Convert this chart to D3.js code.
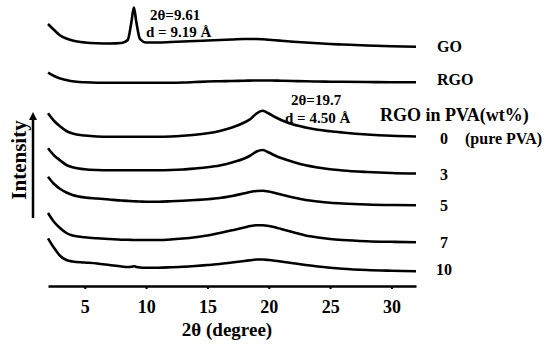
<!DOCTYPE html>
<html>
<head>
<meta charset="utf-8">
<script src="https://cdn.jsdelivr.net/npm/d3@7"></script>
<style>
  body { margin: 0; background: #fff; }
  svg text { font-family: "Liberation Serif", "Times New Roman", serif; font-weight: bold; fill: #000; }
</style>
</head>
<body>
<div id="chart"></div>
<script>
// 2-theta sampling points (degree)
const twoTheta = [2, 2.5, 3, 3.5, 4, 5, 6, 7, 8, 8.5, 8.8, 9.0, 9.2, 9.5, 10, 11, 12, 13, 14, 15, 16, 17, 18,
    18.5, 19, 19.5, 20, 20.5, 21, 22, 23, 24, 25, 26, 28, 30, 32];

// sample names, top to bottom
const sampleNames = ['GO', 'RGO', '0', '3', '5', '7', '10'];

// vertical offset of each trace (a.u.)
const offsets = [226, 191, 139, 103, 71, 35, 5];

// intensity (a.u.)
const goValues = [36, 30, 24.5, 21.5, 19.5, 17.5, 16.7, 16.5, 17, 20, 38, 52.5, 38, 21, 17.5, 17.5, 18, 18.5, 19,
    19.5, 20, 20.5, 21, 21, 21, 20.7, 20.2, 19.8, 19.3, 18.3, 17.5, 16.7, 16, 15.5, 14.5, 13.8, 13.3];
const rgoValues = [22.3, 19, 16.5, 15, 13.7, 12.7, 12.3, 12.3, 12.3, 12.3, 12.3, 12.3, 12.3, 12.3, 12.3, 12.3, 12.3,
    12.5, 13, 13.5, 13.8, 14, 14.3, 14.4, 14.5, 14.5, 14.5, 14.4, 14.3, 14, 13.7, 13.5, 13.3, 13.2, 13, 12.8, 12.7];
const pva0Values = [33.7, 26, 20.5, 16, 13.5, 11.5, 10.5, 10.2, 10.2, 10.2, 10.2, 10.2, 10.2, 10.2, 10.2, 10.2, 10.5,
    11.2, 12.2, 13.7, 16, 19.5, 24.5, 28, 33.5, 36.2, 33.5, 30, 27, 22.5, 19.5, 17.2, 15.7, 14.5, 12.5, 11.2, 10.5];
const pva3Values = [34.7, 27.5, 22.5, 18, 15.7, 13.7, 13, 12.8, 12.8, 12.8, 12.8, 12.8, 12.8, 12.8, 12.8, 12.8, 13,
    13.5, 14.5, 15.7, 17.5, 20.5, 24.5, 27.5, 31.5, 33, 30.5, 27.5, 25, 21, 17.7, 15.5, 13.7, 12.5, 11, 10, 9.5];
const pva5Values = [38.3, 31, 26, 22.5, 20, 17.5, 16.5, 15.5, 14.5, 14.1, 13.9, 13.7, 13.6, 13.5, 13.3, 13.3, 13.7,
    14.3, 15, 15.8, 17, 19, 21.7, 23, 24, 24.3, 23.5, 22, 20.5, 17.5, 15, 13.5, 12.3, 11.5, 10.5, 10, 9.8];
const pva7Values = [38, 29, 22.7, 18, 15.5, 13.7, 12.7, 12, 11.3, 11.2, 11.1, 11, 11, 11, 11, 11, 11.5,
    12.5, 13.8, 15.5, 18, 20.7, 23.5, 25, 25.8, 25.7, 25, 23.7, 22, 18.7, 15.5, 13.5, 12, 11, 9.8, 9.2, 8.8];
const pva10Values = [42.7, 33, 25, 21, 19.5, 18.5, 17.5, 16, 14.5, 14, 14.2, 14.8, 14.1, 13.5, 13.2, 13.3, 13.7,
    14.2, 15, 16, 17, 18.5, 20, 20.8, 21.5, 21.5, 21, 20.3, 19.5, 17.7, 16, 14.5, 13.3, 12.3, 11, 10.3, 9.8];

const xTicks = [5, 10, 15, 20, 25, 30];

const width = 550, height = 348;

const svg = d3.select('#chart')
    .append('svg')
    .attr('width', width)
    .attr('height', height);

const x = d3.scaleLinear().domain([2, 32]).range([48, 416]);
const y = d3.scaleLinear().domain([0, 280]).range([286, 6]);

const allSeries = [goValues, rgoValues, pva0Values, pva3Values, pva5Values, pva7Values, pva10Values];

const series = sampleNames.map((name, i) => ({
    name: name,
    offset: offsets[i],
    points: twoTheta.map((t, j) => [t, allSeries[i][j] + offsets[i]])
}));

const line = d3.line()
    .x(d => x(d[0]))
    .y(d => y(d[1]))
    .curve(d3.curveMonotoneX);

svg.append('g')
    .selectAll('path')
    .data(series)
    .enter()
    .append('path')
    .attr('d', d => line(d.points))
    .attr('fill', 'none')
    .attr('stroke', '#000')
    .attr('stroke-width', 2.6)
    .attr('stroke-linejoin', 'round');

// sample labels at the right end of each trace
const labelShift = [5, 3, 7, 6, 6, 6, 4];
svg.append('g')
    .selectAll('text')
    .data(series)
    .enter()
    .append('text')
    .attr('x', (d, i) => i < 2 ? 437 : 444)
    .attr('y', (d, i) => y(d.points[d.points.length - 1][1]) + labelShift[i])
    .attr('text-anchor', (d, i) => i < 2 ? 'start' : 'middle')
    .attr('font-size', '16px')
    .text(d => d.name);

svg.append('text')
    .attr('x', 465).attr('y', 144)
    .attr('font-size', '16px')
    .text('(pure PVA)');

svg.append('text')
    .attr('x', 380).attr('y', 121)
    .attr('font-size', '18px')
    .text('RGO in PVA(wt%)');

// peak annotations
svg.append('text').attr('x', 150).attr('y', 20).attr('font-size', '15px').text('2θ=9.61');
svg.append('text').attr('x', 146).attr('y', 37).attr('font-size', '15px').text('d = 9.19 Å');
svg.append('text').attr('x', 291).attr('y', 105).attr('font-size', '15px').text('2θ=19.7');
svg.append('text').attr('x', 285).attr('y', 123).attr('font-size', '15px').text('d = 4.50 Å');

// x axis
const xAxis = svg.append('g')
    .attr('transform', `translate(0,${y(0)})`)
    .call(d3.axisBottom(x).tickValues(xTicks).tickSize(3).tickSizeOuter(0).tickPadding(11));

xAxis.select('.domain').attr('stroke', '#000').attr('stroke-width', 2.5);
xAxis.selectAll('.tick line').attr('stroke', '#000').attr('stroke-width', 2);
xAxis.selectAll('.tick text')
    .attr('font-size', '18px')
    .attr('fill', '#000');

svg.append('text')
    .attr('x', 227).attr('y', 336)
    .attr('text-anchor', 'middle')
    .attr('font-size', '19px')
    .text('2θ (degree)');

// intensity arrow
svg.append('defs').append('marker')
    .attr('id', 'head')
    .attr('viewBox', '0 0 10 10')
    .attr('refX', 0).attr('refY', 5)
    .attr('markerWidth', 4).attr('markerHeight', 3.2)
    .attr('orient', 'auto')
    .append('path')
    .attr('d', 'M0,0 L10,5 L0,10 Z')
    .attr('fill', '#000');

svg.append('line')
    .attr('x1', 33).attr('y1', 218)
    .attr('x2', 33).attr('y2', 120)
    .attr('stroke', '#000')
    .attr('stroke-width', 2.5)
    .attr('marker-end', 'url(#head)');

svg.append('text')
    .attr('transform', 'translate(26,160) rotate(-90)')
    .attr('text-anchor', 'middle')
    .attr('font-size', '21px')
    .text('Intensity');
</script>
</body>
</html>
